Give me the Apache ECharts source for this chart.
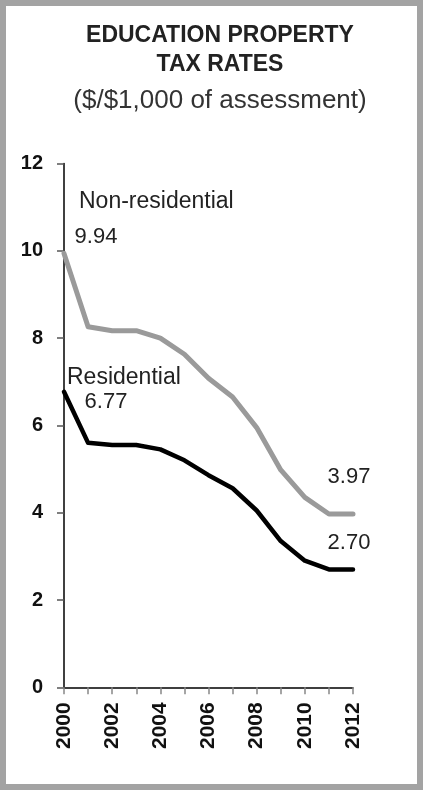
<!DOCTYPE html>
<html>
<head>
<meta charset="utf-8">
<script src="https://cdn.jsdelivr.net/npm/echarts@6/dist/echarts.min.js"></script>
<style>
  html, body { margin: 0; padding: 0; background: #fff; }
  #container { width: 423px; height: 790px; }
</style>
</head>
<body>
<div id="container"></div>
<script>
// data
var years = ['2000','2001','2002','2003','2004','2005','2006','2007','2008','2009','2010','2011','2012'];
var nonResidential = [9.94, 8.26, 8.17, 8.17, 8.0, 7.63, 7.08, 6.65, 5.95, 4.98, 4.35, 3.97, 3.97];
var residential = [6.77, 5.60, 5.55, 5.55, 5.45, 5.20, 4.86, 4.56, 4.05, 3.35, 2.90, 2.70, 2.70];
var yTicks = [0, 2, 4, 6, 8, 10, 12];

var font = 'Liberation Sans, Arial, sans-serif';

// put a value label on the first and last point of a series
function withLabels(values, firstOffset, lastOffset) {
    return values.map(function (v, i) {
        if (i === 0 || i === values.length - 1) {
            return {
                value: v,
                label: {
                    show: true,
                    position: 'inside',
                    offset: i === 0 ? firstOffset : lastOffset,
                    formatter: function (p) { return p.value.toFixed(2); },
                    fontFamily: font,
                    fontSize: 22,
                    color: '#222'
                }
            };
        }
        return v;
    });
}

var myChart = echarts.init(document.getElementById('container'));
var option = {
    backgroundColor: '#fff',
    animation: false,
    title: [{
        text: 'EDUCATION PROPERTY\nTAX RATES',
        left: 215, top: 16, textAlign: 'center',
        textStyle: { fontFamily: font, fontSize: 23, fontWeight: 'bold', color: '#222', lineHeight: 29 }
    }, {
        text: '($/$1,000 of assessment)',
        left: 215, top: 83, textAlign: 'center',
        textStyle: { fontFamily: font, fontSize: 26, fontWeight: 'normal', color: '#333' }
    }],
    grid: { left: 64, right: 70, top: 163.5, bottom: 102.7 },
    xAxis: {
        type: 'category',
        data: years,
        boundaryGap: false,
        axisLine: { lineStyle: { color: '#000', width: 1.5 } },
        axisTick: { interval: 0, length: 7, lineStyle: { color: '#888', width: 1.5 } },
        axisLabel: {
            interval: 1, rotate: 90, margin: 15,
            fontFamily: font, fontSize: 21, fontWeight: 'bold', color: '#111'
        },
        splitLine: { show: false }
    },
    yAxis: {
        type: 'value',
        min: yTicks[0], max: yTicks[yTicks.length - 1], interval: 2,
        axisLine: { show: true, lineStyle: { color: '#000', width: 1.5 } },
        axisTick: { show: true, length: 7, lineStyle: { color: '#555', width: 1.5 } },
        axisLabel: { margin: 21, fontFamily: font, fontSize: 20, fontWeight: 'bold', color: '#111' },
        splitLine: { show: false }
    },
    series: [{
        name: 'Non-residential',
        type: 'line',
        data: withLabels(nonResidential, [32, -16], [-4, -37]),
        smooth: false,
        symbol: 'circle', symbolSize: 0, showSymbol: true,
        lineStyle: { color: '#9a9a9a', width: 5, join: 'round', cap: 'round' },
        itemStyle: { color: '#9a9a9a' },
        z: 2
    }, {
        name: 'Residential',
        type: 'line',
        data: withLabels(residential, [42, 10], [-4, -27]),
        smooth: false,
        symbol: 'circle', symbolSize: 0, showSymbol: true,
        lineStyle: { color: '#000', width: 4.5, join: 'round', cap: 'round' },
        itemStyle: { color: '#000' },
        z: 3
    }],
    graphic: [{
        type: 'rect',
        shape: { x: 3, y: 3, width: 417, height: 784 },
        style: { fill: 'none', stroke: '#a3a3a3', lineWidth: 6 },
        silent: true
    }, {
        type: 'text', left: 79, top: 190,
        style: { text: 'Non-residential', fontFamily: font, fontSize: 23, fill: '#222' }
    }, {
        type: 'text', left: 67, top: 366,
        style: { text: 'Residential', fontFamily: font, fontSize: 23, fill: '#222' }
    }]
};

myChart.setOption(option);
</script>
</body>
</html>
